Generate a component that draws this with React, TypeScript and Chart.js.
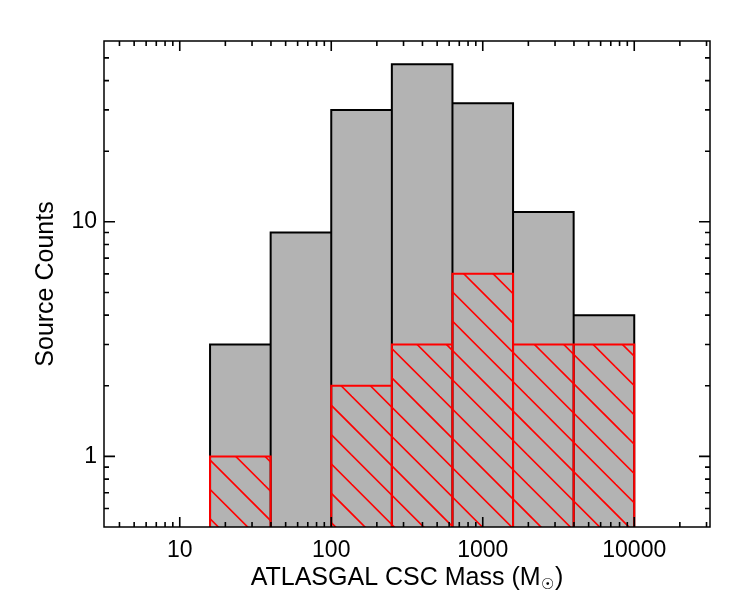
import { useEffect, useRef } from 'react';
import { Chart, registerables } from 'chart.js';

Chart.register(...registerables);

// Histogram bins: 0.4 dex wide, edges given as log10(mass / Msun)
const BIN_EDGES_LOG = [1.2, 1.6, 2.0, 2.4, 2.8, 3.2, 3.6, 4.0];
// All ATLASGAL CSC clumps in the sample
const ALL_COUNTS = [3, 9, 30, 47, 32, 11, 4];
// Sub-sample drawn hatched in red
const SUBSET_COUNTS = [1, 0, 2, 3, 6, 3, 3];

// Axis ranges and labelled ticks
const X_MIN = 10 ** 0.5;
const X_MAX = 10 ** 4.5;
const Y_MIN = 0.5;
const Y_MAX = 59;
const X_MAJOR = [10, 100, 1000, 10000];
const Y_MAJOR = [1, 10];

const FONT = '"Liberation Sans", Arial, Helvetica, sans-serif';
const GREY = '#b3b3b3';
const RED = '#ff0000';
// a level well below the plotted range so bar sides run off the bottom
const BASE = 0.05;

function logTicks(min: number, max: number): number[] {
  const out: number[] = [];
  for (let e = -2; e <= 6; e++) {
    for (let m = 1; m <= 9; m++) {
      const v = m * Math.pow(10, e);
      if (v > min * 1.0001 && v < max * 0.9999) out.push(v);
    }
  }
  return out;
}

function isMajor(v: number): boolean {
  const l = Math.log10(v);
  return Math.abs(l - Math.round(l)) < 1e-6;
}

// Outline of a histogram as a polyline: each non-empty bin becomes a box
function histogramOutline(counts: number[]) {
  const pts: { x: number; y: number }[] = [];
  counts.forEach((c, i) => {
    if (c <= 0) return;
    const lo = 10 ** BIN_EDGES_LOG[i];
    const hi = 10 ** BIN_EDGES_LOG[i + 1];
    pts.push({ x: lo, y: BASE }, { x: lo, y: c }, { x: hi, y: c }, { x: hi, y: BASE });
  });
  return pts;
}

function makeHatch(): CanvasPattern | string {
  const size = 88; // three line spacings per tile
  const step = size / 3;
  const tile = document.createElement('canvas');
  tile.width = size;
  tile.height = size;
  const g = tile.getContext('2d');
  if (!g) return 'rgba(0,0,0,0)';
  g.strokeStyle = RED;
  g.lineWidth = 1.6;
  for (let k = -5; k <= 6; k++) {
    const x0 = 14 + k * step;
    g.beginPath();
    g.moveTo(x0 - 30, -30);
    g.lineTo(x0 + size + 30, size + 30);
    g.stroke();
  }
  const p = g.createPattern(tile, 'repeat');
  return p ?? 'rgba(0,0,0,0)';
}

const framePlugin = {
  id: 'idlFrame',
  afterDatasetsDraw(chart: Chart) {
    const { ctx, chartArea: a } = chart;
    const xs = chart.scales.x;
    const ys = chart.scales.y;
    ctx.save();
    ctx.strokeStyle = '#000';
    ctx.lineWidth = 1.6;
    ctx.lineCap = 'butt';
    // tick marks on all four sides, pointing inward
    xs.ticks.forEach((t) => {
      const px = xs.getPixelForValue(t.value);
      const len = isMajor(t.value) ? 10 : 5;
      ctx.beginPath();
      ctx.moveTo(px, a.bottom);
      ctx.lineTo(px, a.bottom - len);
      ctx.moveTo(px, a.top);
      ctx.lineTo(px, a.top + len);
      ctx.stroke();
    });
    ys.ticks.forEach((t) => {
      const py = ys.getPixelForValue(t.value);
      const len = isMajor(t.value) ? 11 : 5;
      ctx.beginPath();
      ctx.moveTo(a.left, py);
      ctx.lineTo(a.left + len, py);
      ctx.moveTo(a.right, py);
      ctx.lineTo(a.right - len, py);
      ctx.stroke();
    });
    ctx.lineWidth = 1.5;
    ctx.strokeRect(a.left, a.top, a.right - a.left, a.bottom - a.top);
    ctx.restore();
  },
  afterDraw(chart: Chart) {
    const { ctx, chartArea: a } = chart;
    ctx.save();
    ctx.fillStyle = '#000';
    ctx.textAlign = 'left';
    ctx.textBaseline = 'alphabetic';

    // x-axis title with the solar-mass subscript
    const cx = (a.left + a.right) / 2;
    const main = 'ATLASGAL CSC Mass (M';
    const sub = '\u2609';
    const close = ')';
    ctx.font = `25px ${FONT}`;
    const wMain = ctx.measureText(main).width;
    const wClose = ctx.measureText(close).width;
    ctx.font = `15px "DejaVu Sans", ${FONT}`;
    const wSub = ctx.measureText(sub).width;
    const x0 = cx - (wMain + wSub + wClose + 1) / 2;
    const yBase = 585;
    ctx.font = `25px ${FONT}`;
    ctx.fillText(main, x0, yBase);
    ctx.font = `15px "DejaVu Sans", ${FONT}`;
    ctx.fillText(sub, x0 + wMain + 0.5, yBase + 4);
    ctx.font = `25px ${FONT}`;
    ctx.fillText(close, x0 + wMain + wSub + 1, yBase);

    // y-axis title
    ctx.translate(52.5, (a.top + a.bottom) / 2);
    ctx.rotate(-Math.PI / 2);
    ctx.textAlign = 'center';
    ctx.fillText('Source Counts', 0, 0);
    ctx.restore();
  },
};

export default function App() {
  const canvasRef = useRef<HTMLCanvasElement | null>(null);

  useEffect(() => {
    const canvas = canvasRef.current;
    if (!canvas) return;
    const hatch = makeHatch();

    const chart = new Chart(canvas, {
      type: 'line',
      data: {
        datasets: [
          {
            label: 'subset',
            data: histogramOutline(SUBSET_COUNTS),
            borderColor: RED,
            borderWidth: 2,
            backgroundColor: hatch as any,
            fill: 'start',
            pointRadius: 0,
            tension: 0,
            order: 0,
          },
          {
            label: 'all',
            data: histogramOutline(ALL_COUNTS),
            borderColor: '#000',
            borderWidth: 2,
            backgroundColor: GREY,
            fill: 'start',
            pointRadius: 0,
            tension: 0,
            order: 1,
          },
        ],
      },
      options: {
        animation: false,
        responsive: false,
        devicePixelRatio: 1,
        events: [],
        layout: { padding: { top: 41, right: 40, left: 0, bottom: 0 } },
        plugins: {
          legend: { display: false },
          tooltip: { enabled: false },
          title: { display: false },
        },
        scales: {
          x: {
            type: 'logarithmic',
            min: X_MIN,
            max: X_MAX,
            grid: { display: false, drawTicks: false },
            border: { display: false },
            afterBuildTicks: (scale: any) => {
              scale.ticks = logTicks(X_MIN, X_MAX).map((v) => ({ value: v }));
            },
            afterFit: (scale: any) => {
              scale.height = 73;
            },
            ticks: {
              autoSkip: false,
              maxRotation: 0,
              padding: 10,
              color: '#000',
              font: { family: FONT, size: 23 },
              callback: (v: any) => (X_MAJOR.includes(Number(v)) ? String(v) : ''),
            },
          },
          y: {
            type: 'logarithmic',
            min: Y_MIN,
            max: Y_MAX,
            grid: { display: false, drawTicks: false },
            border: { display: false },
            afterBuildTicks: (scale: any) => {
              scale.ticks = logTicks(Y_MIN, Y_MAX).map((v) => ({ value: v }));
            },
            afterFit: (scale: any) => {
              scale.width = 104;
            },
            ticks: {
              autoSkip: false,
              padding: 7,
              color: '#000',
              font: { family: FONT, size: 23 },
              callback: (v: any) => (Y_MAJOR.includes(Number(v)) ? String(v) : ''),
            },
          },
        },
      },
      plugins: [framePlugin],
    });

    return () => chart.destroy();
  }, []);

  return (
    <div style={{ position: 'absolute', left: 0, top: 0, width: 750, height: 600, background: '#fff' }}>
      <canvas ref={canvasRef} width={750} height={600} />
    </div>
  );
}
